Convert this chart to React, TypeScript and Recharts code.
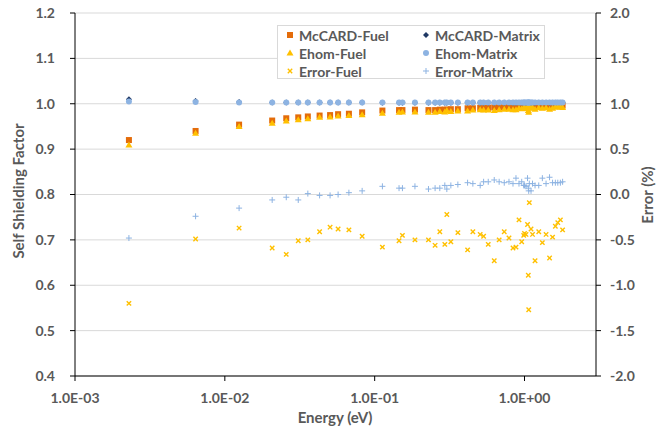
import React from "react";
import { ScatterChart, Scatter, XAxis, YAxis, CartesianGrid } from "recharts";

// Energy grid (eV)
const energy = [
  0.00229, 0.00638, 0.01245, 0.0207, 0.0257, 0.0309, 0.0358, 0.0429, 0.0504, 0.057,
  0.0673, 0.0825, 0.1126, 0.1454, 0.1532, 0.1857, 0.2286, 0.2531, 0.2721, 0.2938,
  0.3031, 0.3224, 0.3591, 0.417, 0.4522, 0.5061, 0.5334, 0.5728, 0.6281, 0.6773,
  0.7325, 0.7876, 0.8378, 0.8772, 0.9188, 0.9579, 0.9877, 1.0, 1.0234, 1.0474,
  1.0602, 1.0668, 1.0767, 1.1053, 1.131, 1.1755, 1.2446, 1.3155, 1.3926, 1.4696,
  1.5393, 1.6069, 1.6675, 1.7358, 1.7956,
];

const mccardFuel = [
  0.92, 0.94, 0.954, 0.963, 0.968, 0.97, 0.972, 0.974, 0.975, 0.977,
  0.978, 0.981, 0.985, 0.986, 0.986, 0.987, 0.986, 0.986, 0.987, 0.987,
  0.987, 0.988, 0.988, 0.99, 0.99, 0.991, 0.991, 0.991, 0.992, 0.992,
  0.992, 0.993, 0.993, 0.993, 0.993, 0.994, 0.994, 0.994, 0.994, 0.994,
  0.994, 0.994, 0.994, 0.994, 0.995, 0.995, 0.995, 0.995, 0.995, 0.995,
  0.995, 0.996, 0.996, 0.996, 0.996,
];

const mccardMatrix = [
  1.01, 1.006, 1.004, 1.003, 1.003, 1.003, 1.003, 1.003, 1.003, 1.003,
  1.003, 1.003, 1.002, 1.002, 1.002, 1.002, 1.002, 1.002, 1.002, 1.002,
  1.002, 1.002, 1.002, 1.002, 1.002, 1.002, 1.002, 1.002, 1.002, 1.002,
  1.002, 1.002, 1.002, 1.002, 1.002, 1.002, 1.002, 1.002, 1.002, 1.002,
  1.002, 1.002, 1.002, 1.002, 1.002, 1.002, 1.002, 1.002, 1.002, 1.002,
  1.002, 1.002, 1.002, 1.002, 1.002,
];

const ehomFuel = [
  0.909, 0.935, 0.95, 0.957, 0.962, 0.965, 0.967, 0.97, 0.971, 0.973,
  0.974, 0.976, 0.979, 0.981, 0.982, 0.982, 0.981, 0.981, 0.983, 0.982,
  0.985, 0.983, 0.984, 0.984, 0.986, 0.987, 0.986, 0.986, 0.985, 0.987,
  0.988, 0.988, 0.987, 0.987, 0.99, 0.989, 0.99, 0.99, 0.99, 0.991,
  0.985, 0.981, 0.993, 0.99, 0.991, 0.988, 0.991, 0.99, 0.991, 0.988,
  0.99, 0.993, 0.993, 0.993, 0.992,
];

const ehomMatrix = [
  1.005, 1.004, 1.003, 1.003, 1.003, 1.003, 1.003, 1.003, 1.003, 1.003,
  1.003, 1.003, 1.003, 1.003, 1.003, 1.003, 1.003, 1.003, 1.003, 1.003,
  1.003, 1.003, 1.003, 1.003, 1.003, 1.003, 1.003, 1.003, 1.003, 1.003,
  1.003, 1.003, 1.003, 1.003, 1.003, 1.003, 1.003, 1.003, 1.003, 1.003,
  1.003, 1.003, 1.003, 1.003, 1.003, 1.003, 1.003, 1.003, 1.003, 1.003,
  1.003, 1.003, 1.003, 1.003, 1.003,
];

// Relative error (%)
const errorFuel = [
  -1.2, -0.49, -0.37, -0.59, -0.66, -0.51, -0.5, -0.41, -0.36, -0.38,
  -0.39, -0.46, -0.58, -0.51, -0.45, -0.5, -0.5, -0.56, -0.41, -0.55,
  -0.22, -0.52, -0.42, -0.61, -0.41, -0.44, -0.46, -0.55, -0.73, -0.5,
  -0.41, -0.48, -0.59, -0.58, -0.28, -0.52, -0.45, -0.43, -0.44, -0.33,
  -0.89, -1.27, -0.09, -0.38, -0.44, -0.73, -0.41, -0.53, -0.44, -0.7,
  -0.47, -0.35, -0.31, -0.28, -0.39,
];

const errorMatrix = [
  -0.48, -0.24, -0.15, -0.06, -0.03, -0.06, 0.01, -0.01, -0.01, 0.0,
  0.02, 0.04, 0.09, 0.07, 0.07, 0.09, 0.06, 0.07, 0.07, 0.1,
  0.06, 0.1, 0.11, 0.13, 0.12, 0.1, 0.14, 0.14, 0.16, 0.14,
  0.13, 0.14, 0.12, 0.18, 0.12, 0.14, 0.1, 0.1, 0.09, 0.18,
  0.07, 0.04, 0.12, 0.04, 0.12, 0.1, 0.1, 0.18, 0.12, 0.19,
  0.13, 0.13, 0.13, 0.13, 0.14,
];

const xTicks = [0.001, 0.01, 0.1, 1];
const leftTicks = [0.4, 0.5, 0.6, 0.7, 0.8, 0.9, 1.0, 1.1, 1.2];
const rightTicks = [-2, -1.5, -1, -0.5, 0, 0.5, 1, 1.5, 2];

const FONT = "Lato, 'Open Sans', sans-serif";
const TEXT = "#595959";

const toPoints = (ys: number[]) => energy.map((e, i) => ({ energy: e, value: ys[i] }));

const fmtExp = (v: number) => {
  const p = Math.round(Math.log10(v));
  const sign = p < 0 ? "-" : "+";
  return `1.0E${sign}${String(Math.abs(p)).padStart(2, "0")}`;
};

// marker shapes
const Square = ({ cx, cy, color }: any) => <rect x={cx - 3} y={cy - 3} width={6} height={6} fill={color} />;
const Diamond = ({ cx, cy, color }: any) => (
  <polygon points={`${cx},${cy - 3} ${cx + 3},${cy} ${cx},${cy + 3} ${cx - 3},${cy}`} fill={color} />
);
const Triangle = ({ cx, cy, color }: any) => (
  <polygon points={`${cx},${cy - 3.5} ${cx + 3.5},${cy + 2.5} ${cx - 3.5},${cy + 2.5}`} fill={color} />
);
const Dot = ({ cx, cy, color }: any) => <circle cx={cx} cy={cy} r={3} fill={color} />;
const Cross = ({ cx, cy, color }: any) => (
  <g stroke={color} strokeWidth={1.4}>
    <line x1={cx - 2.2} y1={cy - 2.2} x2={cx + 2.2} y2={cy + 2.2} />
    <line x1={cx - 2.2} y1={cy + 2.2} x2={cx + 2.2} y2={cy - 2.2} />
  </g>
);
const Plus = ({ cx, cy, color }: any) => (
  <g stroke={color} strokeWidth={1}>
    <line x1={cx - 3} y1={cy} x2={cx + 3} y2={cy} />
    <line x1={cx} y1={cy - 3} x2={cx} y2={cy + 3} />
  </g>
);

const series = [
  { name: "McCARD-Fuel", data: mccardFuel, axis: "left", color: "#E46C0A", Shape: Square },
  { name: "McCARD-Matrix", data: mccardMatrix, axis: "left", color: "#1F3864", Shape: Diamond },
  { name: "Ehom-Fuel", data: ehomFuel, axis: "left", color: "#FFC000", Shape: Triangle },
  { name: "Ehom-Matrix", data: ehomMatrix, axis: "left", color: "#8DB3E2", Shape: Dot },
  { name: "Error-Fuel", data: errorFuel, axis: "right", color: "#FFC000", Shape: Cross },
  { name: "Error-Matrix", data: errorMatrix, axis: "right", color: "#8DB3E2", Shape: Plus },
];

function ChartLegend() {
  return (
    <div
      style={{
        position: "absolute",
        left: 277,
        top: 25,
        width: 268,
        height: 54,
        background: "#fff",
        border: "1px solid #D9D9D9",
        boxSizing: "border-box",
        display: "grid",
        gridTemplateColumns: "136px 130px",
        gridAutoRows: "18px",
        fontFamily: FONT,
        fontWeight: 700,
        fontSize: 14,
        color: TEXT,
        whiteSpace: "nowrap",
      }}
    >
      {series.map(({ name, color, Shape }) => (
        <div key={name} style={{ display: "flex", alignItems: "center", paddingLeft: 7 }}>
          <svg width={10} height={10} style={{ marginRight: 4 }}>
            <Shape cx={5} cy={5} color={color} />
          </svg>
          <span>{name}</span>
        </div>
      ))}
    </div>
  );
}

export default function App() {
  return (
    <div style={{ position: "relative", width: 669, height: 432, background: "#fff" }}>
      <style>{"body{margin:0}"}</style>
      <ScatterChart width={669} height={432} margin={{ top: 13, right: 0, bottom: 0, left: 0 }}>
        <CartesianGrid yAxisId="left" vertical={false} stroke="#D9D9D9" />
        <XAxis
          type="number"
          dataKey="energy"
          scale="log"
          domain={[0.001, 3]}
          ticks={xTicks}
          allowDataOverflow
          height={56}
          tickSize={5}
          tickMargin={12}
          tickFormatter={fmtExp}
          stroke="#000"
          tick={{ fill: TEXT, fontSize: 14, fontWeight: 700, fontFamily: FONT }}
          label={{
            content: () => (
              <text x={335} y={423} textAnchor="middle" fill={TEXT} fontSize={15} fontWeight={700} fontFamily={FONT}>
                Energy (eV)
              </text>
            ),
          }}
        />
        <YAxis
          yAxisId="left"
          type="number"
          dataKey="value"
          domain={[0.4, 1.2]}
          ticks={leftTicks}
          width={75}
          tickSize={5}
          tickMargin={15}
          tickFormatter={(v: number) => v.toFixed(1)}
          stroke="#000"
          tick={{ fill: TEXT, fontSize: 14, fontWeight: 700, fontFamily: FONT }}
          label={{
            content: () => (
              <text
                x={24}
                y={191}
                transform="rotate(-90 24 191)"
                textAnchor="middle"
                fill={TEXT}
                fontSize={15}
                fontWeight={700}
                fontFamily={FONT}
              >
                Self Shielding Factor
              </text>
            ),
          }}
        />
        <YAxis
          yAxisId="right"
          orientation="right"
          type="number"
          dataKey="value"
          domain={[-2, 2]}
          ticks={rightTicks}
          width={73}
          tickSize={5}
          tickMargin={9}
          tickFormatter={(v: number) => v.toFixed(1)}
          stroke="#000"
          tick={{ fill: TEXT, fontSize: 14, fontWeight: 700, fontFamily: FONT }}
          label={{
            content: () => (
              <text
                x={653}
                y={195}
                transform="rotate(-90 653 195)"
                textAnchor="middle"
                fill={TEXT}
                fontSize={15}
                fontWeight={700}
                fontFamily={FONT}
              >
                Error (%)
              </text>
            ),
          }}
        />
        {series.map(({ name, data, axis, color, Shape }) => (
          <Scatter
            key={name}
            name={name}
            data={toPoints(data)}
            yAxisId={axis}
            isAnimationActive={false}
            shape={(p: any) => <Shape cx={p.cx} cy={p.cy} color={color} />}
          />
        ))}
      </ScatterChart>
      <ChartLegend />
    </div>
  );
}
